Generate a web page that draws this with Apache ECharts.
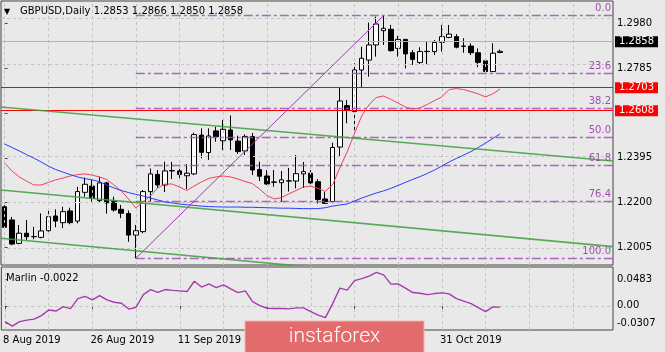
<!DOCTYPE html>
<html>
<head>
<meta charset="utf-8">
<script src="https://cdn.jsdelivr.net/npm/echarts@6/dist/echarts.min.js"></script>
<style>
  html, body { margin: 0; padding: 0; background: #e9e9e9; }
  #chart { width: 665px; height: 352px; }
</style>
</head>
<body>
<div id="chart"></div>
<script>
// ---------------- data ----------------
// daily candles: [open, high, low, close]
const candles = [
  [1.2182, 1.2189, 1.2089, 1.2093], [1.2125, 1.2138, 1.2015, 1.2020], [1.2023, 1.2103, 1.2019, 1.2067],
  [1.2067, 1.2125, 1.2038, 1.2052], [1.2052, 1.2095, 1.2041, 1.2053], [1.2049, 1.2153, 1.2045, 1.2077],
  [1.2078, 1.2170, 1.2074, 1.2139], [1.2142, 1.2171, 1.2093, 1.2120], [1.2113, 1.2182, 1.2089, 1.2161],
  [1.2164, 1.2178, 1.2106, 1.2113], [1.2120, 1.2269, 1.2110, 1.2248], [1.2245, 1.2309, 1.2226, 1.2280],
  [1.2272, 1.2299, 1.2204, 1.2219], [1.2209, 1.2312, 1.2199, 1.2286], [1.2286, 1.2291, 1.2152, 1.2199],
  [1.2206, 1.2226, 1.2161, 1.2168], [1.2171, 1.2190, 1.2133, 1.2154], [1.2153, 1.2166, 1.2030, 1.2059],
  [1.2059, 1.2103, 1.1958, 1.2078], [1.2074, 1.2255, 1.2067, 1.2248], [1.2248, 1.2349, 1.2204, 1.2325],
  [1.2323, 1.2342, 1.2265, 1.2277], [1.2277, 1.2378, 1.2246, 1.2338], [1.2338, 1.2377, 1.2303, 1.2340],
  [1.2338, 1.2357, 1.2306, 1.2323], [1.2317, 1.2368, 1.2259, 1.2328], [1.2325, 1.2504, 1.2320, 1.2496],
  [1.2494, 1.2523, 1.2393, 1.2419], [1.2418, 1.2523, 1.2386, 1.2490], [1.2512, 1.2530, 1.2465, 1.2487],
  [1.2469, 1.2559, 1.2429, 1.2519], [1.2516, 1.2579, 1.2429, 1.2473], [1.2468, 1.2491, 1.2412, 1.2422],
  [1.2425, 1.2497, 1.2407, 1.2488], [1.2488, 1.2503, 1.2320, 1.2342], [1.2344, 1.2378, 1.2294, 1.2315],
  [1.2316, 1.2342, 1.2277, 1.2281], [1.2290, 1.2342, 1.2269, 1.2289], [1.2287, 1.2338, 1.2204, 1.2299],
  [1.2294, 1.2351, 1.2248, 1.2295], [1.2294, 1.2407, 1.2262, 1.2326], [1.2325, 1.2377, 1.2264, 1.2335],
  [1.2328, 1.2342, 1.2277, 1.2286], [1.2291, 1.2302, 1.2196, 1.2214], [1.2216, 1.2246, 1.2194, 1.2197],
  [1.2204, 1.2461, 1.2197, 1.2440], [1.2442, 1.2702, 1.2403, 1.2642], [1.2622, 1.2646, 1.2545, 1.2603],
  [1.2596, 1.2806, 1.2502, 1.2777], [1.2777, 1.2878, 1.2702, 1.2828], [1.2820, 1.2983, 1.2748, 1.2886],
  [1.2886, 1.3009, 1.2835, 1.2977], [1.2948, 1.3013, 1.2886, 1.2958], [1.2954, 1.2973, 1.2857, 1.2861],
  [1.2871, 1.2925, 1.2835, 1.2910], [1.2910, 1.2911, 1.2784, 1.2847], [1.2852, 1.2864, 1.2799, 1.2823],
  [1.2810, 1.2876, 1.2803, 1.2857], [1.2857, 1.2903, 1.2802, 1.2858], [1.2857, 1.2907, 1.2842, 1.2897],
  [1.2897, 1.2973, 1.2857, 1.2922], [1.2919, 1.2973, 1.2915, 1.2933], [1.2922, 1.2933, 1.2871, 1.2876],
  [1.2881, 1.2915, 1.2852, 1.2880], [1.2881, 1.2893, 1.2842, 1.2852], [1.2852, 1.2871, 1.2789, 1.2810],
  [1.2817, 1.2828, 1.2760, 1.2770], [1.2770, 1.2893, 1.2768, 1.2850], [1.2853, 1.2866, 1.2850, 1.2858]
];

// red moving average
const maFast = [
  1.2372, 1.2338, 1.2312, 1.2294, 1.2277, 1.2277, 1.2288, 1.2299, 1.2307, 1.2316,
  1.2322, 1.2325, 1.2320, 1.2312, 1.2301, 1.2277, 1.2251, 1.2216, 1.2177, 1.2203,
  1.2229, 1.2264, 1.2281, 1.2281, 1.2268, 1.2253, 1.2272, 1.2290, 1.2305, 1.2312,
  1.2316, 1.2312, 1.2303, 1.2292, 1.2283, 1.2259, 1.2231, 1.2216, 1.2222, 1.2238,
  1.2253, 1.2268, 1.2272, 1.2262, 1.2249, 1.2277, 1.2351, 1.2420, 1.2499, 1.2577,
  1.2625, 1.2657, 1.2664, 1.2649, 1.2633, 1.2616, 1.2607, 1.2612, 1.2627, 1.2644,
  1.2660, 1.2692, 1.2696, 1.2692, 1.2683, 1.2673, 1.2660, 1.2673, 1.2694
];

// blue moving average
const maSlow = [
  1.2455, 1.2440, 1.2425, 1.2409, 1.2394, 1.2377, 1.2359, 1.2344, 1.2333, 1.2322,
  1.2312, 1.2305, 1.2299, 1.2292, 1.2277, 1.2264, 1.2253, 1.2244, 1.2236, 1.2229,
  1.2220, 1.2212, 1.2203, 1.2199, 1.2194, 1.2191, 1.2188, 1.2185, 1.2183, 1.2182,
  1.2181, 1.2181, 1.2181, 1.2180, 1.2180, 1.2179, 1.2178, 1.2177, 1.2176, 1.2176,
  1.2175, 1.2174, 1.2174, 1.2174, 1.2178, 1.2185, 1.2190, 1.2194, 1.2207, 1.2220,
  1.2231, 1.2242, 1.2251, 1.2262, 1.2275, 1.2288, 1.2301, 1.2313, 1.2327, 1.2342,
  1.2359, 1.2377, 1.2392, 1.2407, 1.2422, 1.2440, 1.2459, 1.2479, 1.2499
];

// Marlin oscillator
const marlin = [
  -0.0282, -0.0363, -0.0282, -0.0255, -0.0237, -0.0174, -0.0075, -0.0093, -0.0013, -0.0048,
  0.0131, 0.0172, 0.0108, 0.0185, 0.0108, 0.0065, 0.0047, -0.0057, -0.0025, 0.0203,
  0.0293, 0.0244, 0.0293, 0.0278, 0.0269, 0.0257, 0.0442, 0.0338, 0.0395, 0.0329,
  0.0377, 0.0305, 0.0239, 0.0269, 0.0077, 0.0005, -0.0043, -0.0048, -0.0048, -0.0054,
  -0.0036, -0.0036, -0.0102, -0.0165, -0.0210, 0.0041, 0.0320, 0.0284, 0.0454, 0.0490,
  0.0535, 0.0603, 0.0557, 0.0391, 0.0395, 0.0320, 0.0239, 0.0226, 0.0203, 0.0221,
  0.0233, 0.0215, 0.0131, 0.0086, 0.0041, -0.0031, -0.0102, -0.0018, -0.0022
];

// trend lines: [bar index, price] end points
const greenUpper = [[-0.5, 1.2616], [83.5, 1.2381]];
const greenMiddle = [[-0.5, 1.2255], [83.5, 1.2009]];
const greenLower = [[-0.5, 1.2045], [83.5, 1.1798]];
const fibTrend = [[18, 1.1958], [52, 1.3013]];

// fibonacci grid
const fibLow = 1.1958;
const fibHigh = 1.3013;
const fibLevels = [0, 23.6, 38.2, 50, 61.8, 76.4, 100];
const fibNames = ['0.0', '23.6', '38.2', '50.0', '61.8', '76.4', '100.0'];

// horizontal levels
const redLevels = [1.2703, 1.2608];
const lastPrice = 1.2858;

// axis tick labels
const priceTicks = [1.2980, 1.2785, 1.2590, 1.2395, 1.2200, 1.2005];
const marlinTicks = [0.0483, 0, -0.0307];

// dates (trading days)
const months = ['Jan', 'Feb', 'Mar', 'Apr', 'May', 'Jun', 'Jul', 'Aug', 'Sep', 'Oct', 'Nov', 'Dec'];
const dates = [];
let d = new Date(Date.UTC(2019, 7, 8));
while (dates.length < 84) {
  let wd = d.getUTCDay();
  if (wd !== 0 && wd !== 6) dates.push(d.getUTCDate() + ' ' + months[d.getUTCMonth()] + ' ' + d.getUTCFullYear());
  d.setUTCDate(d.getUTCDate() + 1);
}

// ---------------- chart ----------------
let myChart = echarts.init(document.getElementById('chart'));

const font = 'DejaVu Sans';
const gridLine = { color: '#c4c4c4', type: [3, 3], width: 1 };
const vLines = [];
for (let i = 0; i < 84; i += 6) vLines.push({ xAxis: i });

const fibData = fibLevels.map(function (r, k) {
  let lvl = fibHigh - (fibHigh - fibLow) * r / 100;
  return [{ coord: [18, lvl], name: fibNames[k] }, { coord: [83.5, lvl] }];
});

const showDate = function (i) { return i % 12 === 0 && i < candles.length; };

let option = {
  animation: false,
  backgroundColor: '#e9e9e9',
  textStyle: { fontFamily: font },
  grid: [
    { left: 1, top: 1, width: 612, height: 264, show: true, borderColor: '#444', borderWidth: 1 },
    { left: 1, top: 267, width: 612, height: 63, show: true, borderColor: '#444', borderWidth: 1 }
  ],
  xAxis: [
    { type: 'category', gridIndex: 0, data: dates, boundaryGap: true,
      axisLine: { show: false }, axisTick: { show: false }, axisLabel: { show: false }, splitLine: { show: false } },
    { type: 'category', gridIndex: 1, data: dates, boundaryGap: true,
      axisLine: { show: false },
      axisTick: { show: true, interval: showDate, alignWithLabel: true, length: 3, lineStyle: { color: '#444' } },
      axisLabel: { interval: showDate, align: 'left', margin: 5, color: '#000', fontSize: 10, fontFamily: font,
        padding: [0, 0, 0, -2] },
      splitLine: { show: false } },
    { type: 'value', gridIndex: 0, min: -0.5, max: 83.5, show: false },
    { type: 'value', gridIndex: 1, min: -0.5, max: 83.5, show: false }
  ],
  yAxis: [
    { type: 'value', gridIndex: 0, position: 'right', min: 1.19289, max: 1.30770,
      axisLine: { show: false },
      axisTick: { show: true, length: 3, customValues: priceTicks, lineStyle: { color: '#444' } },
      axisLabel: { customValues: priceTicks, color: '#000', fontSize: 10, fontFamily: font, margin: 4,
        formatter: function (v) { return v.toFixed(4); } },
      splitLine: { show: false } },
    { type: 'value', gridIndex: 1, position: 'right', min: -0.0433, max: 0.0698,
      axisLine: { show: false },
      axisTick: { show: true, length: 3, customValues: marlinTicks, lineStyle: { color: '#444' } },
      axisLabel: { customValues: marlinTicks, color: '#000', fontSize: 10, fontFamily: font, margin: 4,
        formatter: function (v) { return Math.abs(v) < 1e-9 ? '0.00' : v.toFixed(4); } },
      splitLine: { show: false } }
  ],
  series: [
    // grid lines of the price panel
    { type: 'line', xAxisIndex: 2, yAxisIndex: 0, data: [], z: 1, silent: true,
      markLine: { symbol: 'none', silent: true, label: { show: false }, lineStyle: gridLine,
        data: priceTicks.map(function (v) { return { yAxis: v }; }).concat(vLines) } },
    // grid lines of the oscillator panel
    { type: 'line', xAxisIndex: 3, yAxisIndex: 1, data: [], z: 1, silent: true,
      markLine: { symbol: 'none', silent: true, label: { show: false }, lineStyle: gridLine,
        data: [{ yAxis: 0 }].concat(vLines) } },
    // fibonacci levels
    { type: 'line', xAxisIndex: 2, yAxisIndex: 0, data: [], z: 2, silent: true,
      markLine: { symbol: 'none', silent: true,
        lineStyle: { color: '#a64fb6', type: [9, 3, 3, 3], width: 1.3, opacity: 0.85 },
        label: { show: true, position: 'insideEndTop', formatter: '{b}', color: '#9531a6', fontSize: 10,
          fontFamily: font, distance: [2, 2] },
        data: fibData } },
    // red levels and last price line
    { type: 'line', xAxisIndex: 2, yAxisIndex: 0, data: [], z: 4, silent: true,
      markLine: { symbol: 'none', silent: true,
        label: { show: true, position: 'end', distance: 2, color: '#fff', fontSize: 10, fontFamily: font,
          padding: [1, 4, 0, 4] },
        data: redLevels.map(function (v) {
          return { yAxis: v, lineStyle: { color: '#ff0000', type: 'solid', width: 1 },
            label: { formatter: v.toFixed(4), backgroundColor: '#ff0000' } };
        }).concat([{ yAxis: lastPrice, lineStyle: { color: '#b4b4b4', type: 'solid', width: 1 },
          label: { formatter: lastPrice.toFixed(4), backgroundColor: '#000' } }]) } },
    // candles
    { type: 'candlestick', xAxisIndex: 0, yAxisIndex: 0, z: 3, barWidth: 5,
      data: candles.map(function (c) { return [c[0], c[3], c[2], c[1]]; }),
      itemStyle: { color: '#ffffff', color0: '#000000', borderColor: '#000000', borderColor0: '#000000', borderWidth: 1 } },
    // moving averages
    { type: 'line', xAxisIndex: 0, yAxisIndex: 0, data: maFast, z: 5, symbol: 'none', silent: true,
      lineStyle: { color: '#f0405e', width: 1 } },
    { type: 'line', xAxisIndex: 0, yAxisIndex: 0, data: maSlow, z: 5, symbol: 'none', silent: true,
      lineStyle: { color: '#2b3cff', width: 1 } },
    // trend lines
    { type: 'line', xAxisIndex: 2, yAxisIndex: 0, data: greenUpper, z: 5, symbol: 'none', silent: true,
      lineStyle: { color: '#3d9e3d', width: 1.6, opacity: 0.85 } },
    { type: 'line', xAxisIndex: 2, yAxisIndex: 0, data: greenMiddle, z: 5, symbol: 'none', silent: true,
      lineStyle: { color: '#3d9e3d', width: 1.6, opacity: 0.85 } },
    { type: 'line', xAxisIndex: 2, yAxisIndex: 0, data: greenLower, z: 5, symbol: 'none', silent: true,
      lineStyle: { color: '#3d9e3d', width: 1.6, opacity: 0.85 } },
    { type: 'line', xAxisIndex: 2, yAxisIndex: 0, data: fibTrend, z: 5, symbol: 'none', silent: true,
      lineStyle: { color: '#9d3cb8', width: 1 } },
    // oscillator
    { type: 'line', xAxisIndex: 1, yAxisIndex: 1, data: marlin, z: 5, symbol: 'none', silent: true,
      lineStyle: { color: '#a53bae', width: 1.4 } }
  ],
  graphic: [
    { type: 'text', left: 4, top: 8, z: 50, style: { text: '▼', font: '8px DejaVu Sans', fill: '#000' } },
    { type: 'text', left: 20, top: 6, z: 50,
      style: { text: 'GBPUSD,Daily 1.2853 1.2866 1.2850 1.2858', font: '10px DejaVu Sans', fill: '#000' } },
    { type: 'text', left: 6, top: 273, z: 50,
      style: { text: 'Marlin -0.0022', font: '10px DejaVu Sans', fill: '#000' } },
    { type: 'rect', z: 100, shape: { x: 245, y: 321, width: 179, height: 34 },
      style: { fill: '#e26b6b', stroke: '#f3b2b2', lineWidth: 1 } },
    { type: 'text', z: 101, x: 334.5, y: 337,
      style: { text: 'instaforex', font: '300 21px Roboto', fill: '#ffffff', align: 'center', verticalAlign: 'middle' } }
  ]
};

myChart.setOption(option);
</script>
</body>
</html>
